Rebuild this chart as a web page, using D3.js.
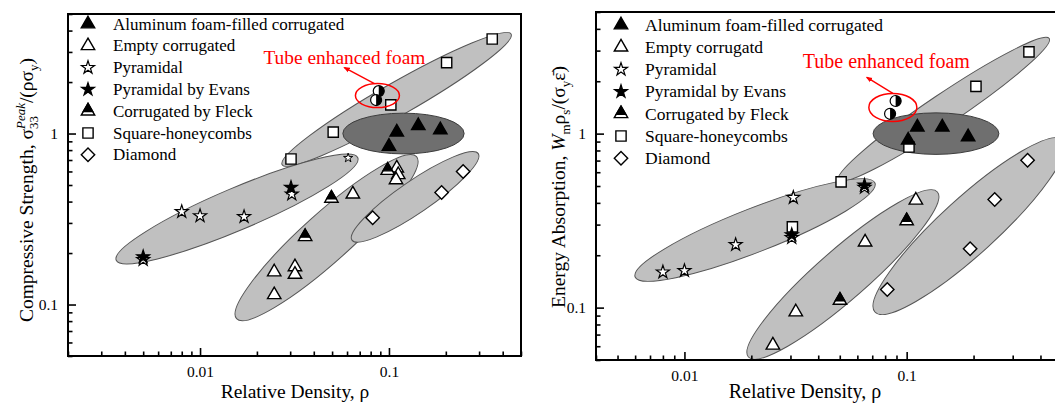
<!DOCTYPE html>
<html>
<head>
<meta charset="utf-8">
<script src="https://cdn.jsdelivr.net/npm/d3@7"></script>
<style>
  body { margin: 0; background: #fff; }
</style>
</head>
<body>
<script>
// Two log-log panels: compressive strength (left) and energy absorption (right)

// ---- left panel data [relative density, value] ----
var foamFilledL = [[0.100, 0.84], [0.110, 1.02], [0.143, 1.11], [0.187, 1.05]];
var emptyCorrL = [[0.0247, 0.155], [0.0247, 0.114], [0.0318, 0.166], [0.0318, 0.150],
                  [0.0644, 0.442], [0.110, 0.628], [0.112, 0.574], [0.109, 0.536]];
var pyramidalL = [[0.005, 0.183], [0.008, 0.349], [0.010, 0.330], [0.0171, 0.326], [0.0306, 0.442]];
var pyramidalSmallL = [[0.0608, 0.72]];
var evansL = [[0.005, 0.19], [0.0303, 0.483]];
var fleckL = [[0.0496, 0.418], [0.036, 0.249], [0.0985, 0.608]];
var squareL = [[0.0303, 0.71], [0.0507, 1.02], [0.1023, 1.47], [0.202, 2.6], [0.352, 3.57]];
var diamondL = [[0.082, 0.322], [0.19, 0.452], [0.247, 0.60]];
var tubeL = [[0.0883, 1.77], [0.0855, 1.57]];
// grouping regions: major axis end points [x1, y1, x2, y2]
var regionsL = [[0.0272, 0.657, 0.443, 3.82], [0.0036, 0.1815, 0.0684, 0.722],
                [0.0156, 0.0827, 0.14, 0.732], [0.0637, 0.238, 0.297, 0.763],
                [0.057, 1.0, 0.25, 1.0]];
var legendL = ["Aluminum foam-filled corrugated", "Empty corrugated", "Pyramidal",
               "Pyramidal by Evans", "Corrugated by Fleck", "Square-honeycombs", "Diamond"];

// ---- right panel data ----
var foamFilledR = [[0.1016, 0.916], [0.1117, 1.09], [0.1446, 1.09], [0.189, 0.957]];
var emptyCorrR = [[0.025, 0.0608], [0.0317, 0.0944], [0.065, 0.238], [0.110, 0.414]];
var pyramidalR = [[0.008, 0.160], [0.010, 0.163], [0.017, 0.230], [0.0309, 0.429],
                  [0.0304, 0.252], [0.0646, 0.49]];
var evansR = [[0.0304, 0.262], [0.0646, 0.505]];
var fleckR = [[0.0501, 0.110], [0.1, 0.315]];
var squareR = [[0.1024, 0.838], [0.0507, 0.528], [0.0306, 0.291], [0.205, 1.87], [0.355, 2.95]];
var diamondR = [[0.0818, 0.127], [0.193, 0.218], [0.249, 0.418], [0.350, 0.703]];
var tubeR = [[0.0892, 1.54], [0.0842, 1.30]];
var regionsR = [[0.0493, 0.539, 0.438, 3.52], [0.006, 0.150, 0.072, 0.52],
                [0.0194, 0.052, 0.1375, 0.462], [0.072, 0.0944, 0.507, 0.916],
                [0.0706, 1.0, 0.26, 1.0]];
var legendR = ["Aluminum foam-filled corrugated", "Empty corrugatd", "Pyramidal",
               "Pyramidal by Evans", "Corrugated by Fleck", "Square-honeycombs", "Diamond"];

var xTickLabels = [0.01, 0.1];
var yTickLabels = [0.1, 1];
var yDomain = [0.05, 5];
var annotation = "Tube enhanced foam";

var FONT = '"Liberation Serif", "Times New Roman", serif';
var legendKinds = ["foam", "empty", "pyr", "evans", "fleck", "square", "diamond"];

var panels = [
    {
        left: 68, right: 521, top: 14, bottom: 356, xDomain: [0.002, 0.5],
        regions: regionsL, regionRatio: [0.125, 0.16, 0.2, 0.21, 0.336],
        series: [["square", squareL], ["diamond", diamondL], ["empty", emptyCorrL],
                 ["fleck", fleckL], ["pyr", pyramidalL], ["pyrSmall", pyramidalSmallL],
                 ["evans", evansL], ["foam", foamFilledL]],
        tube: tubeL, tubeRx: 22, tubeRy: 12, noteDx: -114, noteDy: -32, noteSize: 19.4,
        arrowFrom: [-3, -12], arrowTo: [-33, -28],
        legend: legendL, legX: 88, legTextX: 113, legY0: 24, legDy: 21.8, legSize: 17,
        titleX: 295, xTitleSize: 19.5, yTitle: "left", yTitleX: 33, yTitleY: 190
    },
    {
        left: 596, right: 1062, top: 12, bottom: 360, xDomain: [0.004, 0.5],
        regions: regionsR, regionRatio: [0.12, 0.17, 0.2, 0.22, 0.33],
        series: [["square", squareR], ["diamond", diamondR], ["empty", emptyCorrR],
                 ["fleck", fleckR], ["pyr", pyramidalR], ["evans", evansR],
                 ["foam", foamFilledR]],
        tube: tubeR, tubeRx: 24, tubeRy: 14, noteDx: -90, noteDy: -39, noteSize: 20,
        arrowFrom: [0, -14], arrowTo: [-26, -30],
        legend: legendR, legX: 621, legTextX: 645, legY0: 25, legDy: 22.2, legSize: 17.5,
        titleX: 805, xTitleSize: 20, yTitle: "right", yTitleX: 565, yTitleY: 187
    }
];

var svg = d3.select("body").append("svg")
    .attr("width", 1055)
    .attr("height", 404)
    .style("font-family", FONT);

var defs = svg.append("defs");
defs.append("marker")
    .attr("id", "redArrow")
    .attr("viewBox", "0 0 10 10")
    .attr("refX", 8).attr("refY", 5)
    .attr("markerWidth", 5).attr("markerHeight", 5)
    .attr("orient", "auto")
    .append("path")
    .attr("d", "M0,1 L10,5 L0,9 Z")
    .attr("fill", "red");

function isMajor(d) {
    var l = Math.log10(d);
    return Math.abs(l - Math.round(l)) < 1e-6;
}

function drawMarker(g, kind, px, py) {
    var sw = 1.4;
    if (kind === "foam" || kind === "empty") {
        g.append("path")
            .attr("d", d3.symbol().type(d3.symbolTriangle).size(78)())
            .attr("transform", "translate(" + px + "," + py + ")")
            .attr("fill", kind === "foam" ? "#000" : "#fff")
            .attr("stroke", "#000").attr("stroke-width", sw);
    } else if (kind === "fleck") {
        var size = 78, s = Math.sqrt(4 * size / Math.sqrt(3)), h = s * Math.sqrt(3) / 2;
        var top = -2 * h / 3, cut = h / 3 - 0.3 * h, w = s * (cut + 2 * h / 3) / h;
        g.append("path")
            .attr("d", d3.symbol().type(d3.symbolTriangle).size(size)())
            .attr("transform", "translate(" + px + "," + py + ")")
            .attr("fill", "#fff").attr("stroke", "#000").attr("stroke-width", sw);
        g.append("path")
            .attr("d", "M0," + top + "L" + (w / 2) + "," + cut + "L" + (-w / 2) + "," + cut + "Z")
            .attr("transform", "translate(" + px + "," + py + ")")
            .attr("fill", "#000").attr("stroke", "#000").attr("stroke-width", sw);
    } else if (kind === "pyr" || kind === "evans" || kind === "pyrSmall") {
        g.append("path")
            .attr("d", d3.symbol().type(d3.symbolStar).size(kind === "pyrSmall" ? 26 : 52)())
            .attr("transform", "translate(" + px + "," + py + ")")
            .attr("fill", kind === "evans" ? "#000" : "#fff")
            .attr("stroke", "#000").attr("stroke-width", kind === "pyrSmall" ? 1 : 1.2);
    } else if (kind === "square") {
        g.append("path")
            .attr("d", d3.symbol().type(d3.symbolSquare).size(105)())
            .attr("transform", "translate(" + px + "," + py + ")")
            .attr("fill", "#fff").attr("stroke", "#000").attr("stroke-width", sw);
    } else if (kind === "diamond") {
        g.append("path")
            .attr("d", d3.symbol().type(d3.symbolSquare).size(90)())
            .attr("transform", "translate(" + px + "," + py + ") rotate(45)")
            .attr("fill", "#fff").attr("stroke", "#000").attr("stroke-width", sw);
    } else if (kind === "tube") {
        var r = 5.5;
        g.append("circle")
            .attr("cx", px).attr("cy", py).attr("r", r)
            .attr("fill", "#fff").attr("stroke", "#000").attr("stroke-width", 1.2);
        g.append("path")
            .attr("d", "M0," + (-r) + "A" + r + "," + r + " 0 0 1 0," + r + "Z")
            .attr("transform", "translate(" + px + "," + py + ")")
            .attr("fill", "#000");
    }
}

panels.forEach(function (p, pi) {
    var x = d3.scaleLog().domain(p.xDomain).range([p.left, p.right]);
    var y = d3.scaleLog().domain(yDomain).range([p.bottom, p.top]);
    var g = svg.append("g");

    defs.append("clipPath").attr("id", "clip" + pi)
        .append("rect")
        .attr("x", p.left).attr("y", p.top)
        .attr("width", p.right - p.left).attr("height", p.bottom - p.top);

    // shaded regions
    var regionG = g.append("g").attr("clip-path", "url(#clip" + pi + ")");
    p.regions.forEach(function (r, i) {
        var x1 = x(r[0]), y1 = y(r[1]), x2 = x(r[2]), y2 = y(r[3]);
        var len = Math.hypot(x2 - x1, y2 - y1);
        var ang = Math.atan2(y2 - y1, x2 - x1) * 180 / Math.PI;
        var dark = i === p.regions.length - 1;
        regionG.append("ellipse")
            .attr("cx", 0).attr("cy", 0)
            .attr("rx", len / 2)
            .attr("ry", len / 2 * p.regionRatio[i])
            .attr("transform", "translate(" + ((x1 + x2) / 2) + "," + ((y1 + y2) / 2) + ") rotate(" + ang + ")")
            .attr("fill", dark ? "#6f6f6f" : "#c0c0c0")
            .attr("stroke", dark ? "#3c3c3c" : "#555")
            .attr("stroke-width", 1);
    });

    // axes: minor then major ticks, pointing inward
    var xMinor = x.ticks().filter(function (d) { return !isMajor(d); });
    var yMinor = y.ticks().filter(function (d) { return !isMajor(d); });

    g.append("g").attr("transform", "translate(0," + p.bottom + ")")
        .call(d3.axisBottom(x).tickValues(xMinor).tickSize(-4.5).tickFormat(""));
    g.append("g").attr("transform", "translate(0," + p.bottom + ")")
        .call(d3.axisBottom(x).tickValues(xTickLabels).tickSize(-8).tickPadding(10)
            .tickFormat(d3.format("")));
    g.append("g").attr("transform", "translate(" + p.left + ",0)")
        .call(d3.axisLeft(y).tickValues(yMinor).tickSize(-4.5).tickFormat(""));
    g.append("g").attr("transform", "translate(" + p.left + ",0)")
        .call(d3.axisLeft(y).tickValues(yTickLabels).tickSize(-8).tickPadding(10)
            .tickFormat(d3.format("")));

    g.selectAll(".domain").remove();
    g.selectAll(".tick line").attr("stroke", "#000").attr("stroke-width", 1.6);
    g.selectAll(".tick text")
        .attr("font-family", FONT)
        .attr("font-size", "15.5px")
        .attr("fill", "#000");

    // frame
    g.append("rect")
        .attr("x", p.left).attr("y", p.top)
        .attr("width", p.right - p.left).attr("height", p.bottom - p.top)
        .attr("fill", "none").attr("stroke", "#000").attr("stroke-width", 2);

    // markers
    p.series.forEach(function (s) {
        s[1].forEach(function (d) {
            drawMarker(g, s[0], x(d[0]), y(d[1]));
        });
    });
    p.tube.forEach(function (d) {
        drawMarker(g, "tube", x(d[0]), y(d[1]));
    });

    // tube annotation
    var cx = d3.mean(p.tube, function (d) { return x(d[0]); });
    var cy = d3.mean(p.tube, function (d) { return y(d[1]); });
    g.append("ellipse")
        .attr("cx", cx).attr("cy", cy)
        .attr("rx", p.tubeRx).attr("ry", p.tubeRy)
        .attr("fill", "none").attr("stroke", "red").attr("stroke-width", 1.5);
    g.append("line")
        .attr("x1", cx + p.arrowFrom[0]).attr("y1", cy + p.arrowFrom[1])
        .attr("x2", cx + p.arrowTo[0]).attr("y2", cy + p.arrowTo[1])
        .attr("stroke", "red").attr("stroke-width", 1.3)
        .attr("marker-end", "url(#redArrow)");
    g.append("text")
        .attr("x", cx + p.noteDx).attr("y", cy + p.noteDy)
        .attr("font-size", p.noteSize + "px")
        .attr("fill", "red")
        .text(annotation);

    // legend
    p.legend.forEach(function (label, i) {
        var ly = p.legY0 + i * p.legDy;
        drawMarker(g, legendKinds[i], p.legX, ly);
        g.append("text")
            .attr("x", p.legTextX).attr("y", ly)
            .attr("dy", "0.33em")
            .attr("font-size", p.legSize + "px")
            .attr("fill", "#000")
            .text(label);
    });

    // axis titles
    g.append("text")
        .attr("x", p.titleX).attr("y", 398)
        .attr("text-anchor", "middle")
        .attr("font-size", p.xTitleSize + "px")
        .text("Relative Density, \u03c1");

    var yt = g.append("text")
        .attr("transform", "translate(" + p.yTitleX + "," + p.yTitleY + ") rotate(-90)")
        .attr("text-anchor", "middle")
        .attr("font-size", "19.5px")
        .attr("fill", "#000");
    if (p.yTitle === "left") {
        yt.append("tspan").text("Compressive Strength, \u03c3");
        yt.append("tspan").attr("font-size", "13px").attr("dy", 5).text("33");
        yt.append("tspan").attr("font-size", "13px").attr("font-style", "italic")
            .attr("dx", -13).attr("dy", -13).text("Peak");
        yt.append("tspan").attr("dy", 8).text("/(\u03c1\u03c3");
        yt.append("tspan").attr("font-size", "13px").attr("dy", 5).text("y");
        yt.append("tspan").attr("dy", -5).text(")");
    } else {
        yt.append("tspan").text("Energy Absorption, ");
        yt.append("tspan").attr("font-style", "italic").text("W");
        yt.append("tspan").attr("font-size", "13px").attr("dy", 5).text("m");
        yt.append("tspan").attr("dy", -5).text("\u03c1");
        yt.append("tspan").attr("font-size", "13px").attr("dy", 5).text("s");
        yt.append("tspan").attr("dy", -5).text("/(\u03c3");
        yt.append("tspan").attr("font-size", "13px").attr("dy", 5).text("y");
        yt.append("tspan").attr("dy", -5).text("\u03b5\u0304)");
    }
});
</script>
</body>
</html>
